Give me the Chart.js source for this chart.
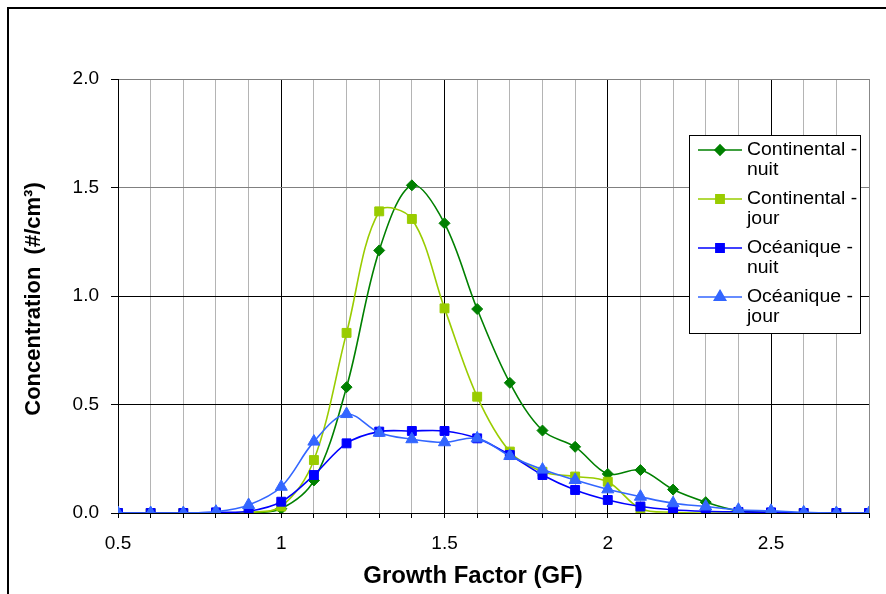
<!DOCTYPE html>
<html>
<head>
<meta charset="utf-8">
<script src="https://cdn.jsdelivr.net/npm/chart.js@4.4.1/dist/chart.umd.min.js"></script>
<style>
  html, body { margin: 0; padding: 0; background: #fff; }
  #wrap { position: relative; width: 886px; height: 594px; overflow: hidden; }
  #frame { position: absolute; left: 7px; top: 7px; width: 900px; height: 600px;
           border-left: 2px solid #000; border-top: 2px solid #000; }
  canvas { position: absolute; left: 0; top: 0; }
</style>
</head>
<body>
<div id="wrap">
  <div id="frame"></div>
  <canvas id="gfChart" width="886" height="594"></canvas>
</div>
<script>
// growth factor values (x axis)
const gf = [0.5, 0.6, 0.7, 0.8, 0.9, 1.0, 1.1, 1.2, 1.3, 1.4, 1.5, 1.6, 1.7, 1.8,
            1.9, 2.0, 2.1, 2.2, 2.3, 2.4, 2.5, 2.6, 2.7, 2.8];

// concentrations (#/cm3)
const continentalNuit = [0, 0, 0, 0, 0, 0.02, 0.15, 0.58, 1.21, 1.51, 1.335, 0.94, 0.60, 0.38,
                         0.305, 0.18, 0.198, 0.108, 0.05, 0.01, 0.003, 0, 0, 0];
const continentalJour = [0, 0, 0, 0, 0.003, 0.03, 0.244, 0.83, 1.39, 1.355, 0.943, 0.536, 0.283, 0.19,
                         0.168, 0.144, 0.02, 0.003, 0, 0, 0, 0, 0, 0];
const oceaniqueNuit = [0, 0, 0, 0.003, 0.008, 0.052, 0.175, 0.321, 0.375, 0.378, 0.378, 0.344, 0.267, 0.175,
                       0.106, 0.06, 0.03, 0.015, 0.008, 0.005, 0.003, 0, 0, 0];
const oceaniqueJour = [0, 0, 0, 0.006, 0.037, 0.121, 0.329, 0.456, 0.37, 0.34, 0.326, 0.344, 0.263, 0.2,
                       0.152, 0.109, 0.075, 0.045, 0.03, 0.015, 0.01, 0.003, 0, 0];

const seriesNames = [['Continental -', 'nuit'], ['Continental -', 'jour'],
                     ['Océanique -', 'nuit'], ['Océanique -', 'jour']];
const seriesColors = ['#008000', '#99CC00', '#0000FF', '#3366FF'];
const seriesMarkers = ['rectRot', 'rect', 'rect', 'triangle'];
const markerSizes = [5.5, 6.3, 6.3, 7];

const yTicks = [0, 0.5, 1.0, 1.5, 2.0];

function pts(vals) {
  return vals.map(function (v, i) { return { x: gf[i], y: v }; });
}

function isHalf(v) {
  return Math.abs(v * 2 - Math.round(v * 2)) < 1e-6;
}

const seriesData = [continentalNuit, continentalJour, oceaniqueNuit, oceaniqueJour];
const datasets = seriesData.map(function (vals, i) {
  return {
    label: seriesNames[i].join(' '),
    data: pts(vals),
    borderColor: seriesColors[i],
    backgroundColor: seriesColors[i],
    borderWidth: 1.6,
    pointStyle: seriesMarkers[i],
    pointRadius: markerSizes[i],
    pointBorderWidth: 1,
    tension: 0.35,
    order: 3 - i
  };
});

const FONT = '"Liberation Sans", Arial, sans-serif';

// axis titles + legend drawn by hand (legend needs two-line labels)
const decorPlugin = {
  id: 'decor',
  afterDraw: function (chart) {
    const ctx = chart.ctx;
    ctx.save();
    ctx.fillStyle = '#000';
    ctx.textAlign = 'center';
    ctx.textBaseline = 'middle';
    ctx.font = 'bold 23px ' + FONT;
    ctx.save();
    ctx.translate(473, 577);
    ctx.scale(1.04, 1);
    ctx.fillText('Growth Factor (GF)', 0, 0);
    ctx.restore();

    ctx.font = 'bold 22px ' + FONT;
    ctx.translate(34, 299);
    ctx.rotate(-Math.PI / 2);
    ctx.fillText('Concentration  (#/cm³)', 0, 0);
    ctx.restore();

    // legend
    const lx = 689, ly = 135, lw = 171, lh = 198;
    ctx.save();
    ctx.fillStyle = '#fff';
    ctx.fillRect(lx, ly, lw, lh);
    ctx.strokeStyle = '#000';
    ctx.lineWidth = 1;
    ctx.strokeRect(lx + 0.5, ly + 0.5, lw, lh);
    ctx.font = '18px ' + FONT;
    ctx.textAlign = 'left';
    ctx.textBaseline = 'middle';
    seriesNames.forEach(function (lines, i) {
      const y0 = ly + 15 + i * 49;
      ctx.strokeStyle = seriesColors[i];
      ctx.lineWidth = 1.6;
      ctx.beginPath();
      ctx.moveTo(698, y0);
      ctx.lineTo(742, y0);
      ctx.stroke();
      Chart.helpers.drawPoint(ctx, {
        pointStyle: seriesMarkers[i],
        radius: markerSizes[i] - 0.5,
        rotation: 0,
        borderWidth: 1
      }, 720, y0);
      ctx.fillStyle = seriesColors[i];
      ctx.fill();
      ctx.fillStyle = '#000';
      ctx.save();
      ctx.translate(747, y0);
      ctx.scale(1.08, 1);
      ctx.fillText(lines[0], 0, 0);
      ctx.fillText(lines[1], 0, 20);
      ctx.restore();
    });
    ctx.restore();
  }
};

new Chart(document.getElementById('gfChart'), {
  type: 'line',
  data: { datasets: datasets },
  options: {
    responsive: false,
    animation: false,
    layout: { padding: { left: 0, right: 17, top: 79, bottom: 0 } },
    plugins: {
      legend: { display: false },
      tooltip: { enabled: false }
    },
    scales: {
      x: {
        type: 'linear',
        min: 0.5,
        max: 2.8,
        afterFit: function (s) { s.height = 81; },
        afterBuildTicks: function (s) {
          s.ticks = gf.map(function (v) { return { value: v }; });
        },
        ticks: {
          autoSkip: false,
          maxRotation: 0,
          padding: 14,
          color: '#000',
          font: { family: FONT, size: 19 },
          callback: function (v) {
            if (!isHalf(v) || v > 2.75) return '';
            return Math.abs(v - Math.round(v)) < 1e-6 ? String(Math.round(v)) : v.toFixed(1);
          }
        },
        grid: {
          color: function (c) {
            const v = c.tick ? c.tick.value : 0;
            if (v > 2.75) return '#888';
            return isHalf(v) && v > 0.55 ? '#000' : '#b4b4b4';
          },
          tickColor: '#000',
          tickLength: 5,
          lineWidth: 1
        },
        border: { display: true, color: '#000', width: 1 }
      },
      y: {
        min: 0,
        max: 2,
        afterFit: function (s) { s.width = 118; },
        afterBuildTicks: function (s) {
          s.ticks = yTicks.map(function (v) { return { value: v }; });
        },
        ticks: {
          padding: 12,
          color: '#000',
          font: { family: FONT, size: 19 },
          callback: function (v) { return v.toFixed(1); }
        },
        grid: {
          color: function (c) {
            const v = c.tick ? c.tick.value : 0;
            return v > 1.25 ? '#808080' : '#000';
          },
          tickColor: '#000',
          tickLength: 7,
          lineWidth: 1
        },
        border: { display: true, color: '#000', width: 1 }
      }
    }
  },
  plugins: [decorPlugin]
});
</script>
</body>
</html>
